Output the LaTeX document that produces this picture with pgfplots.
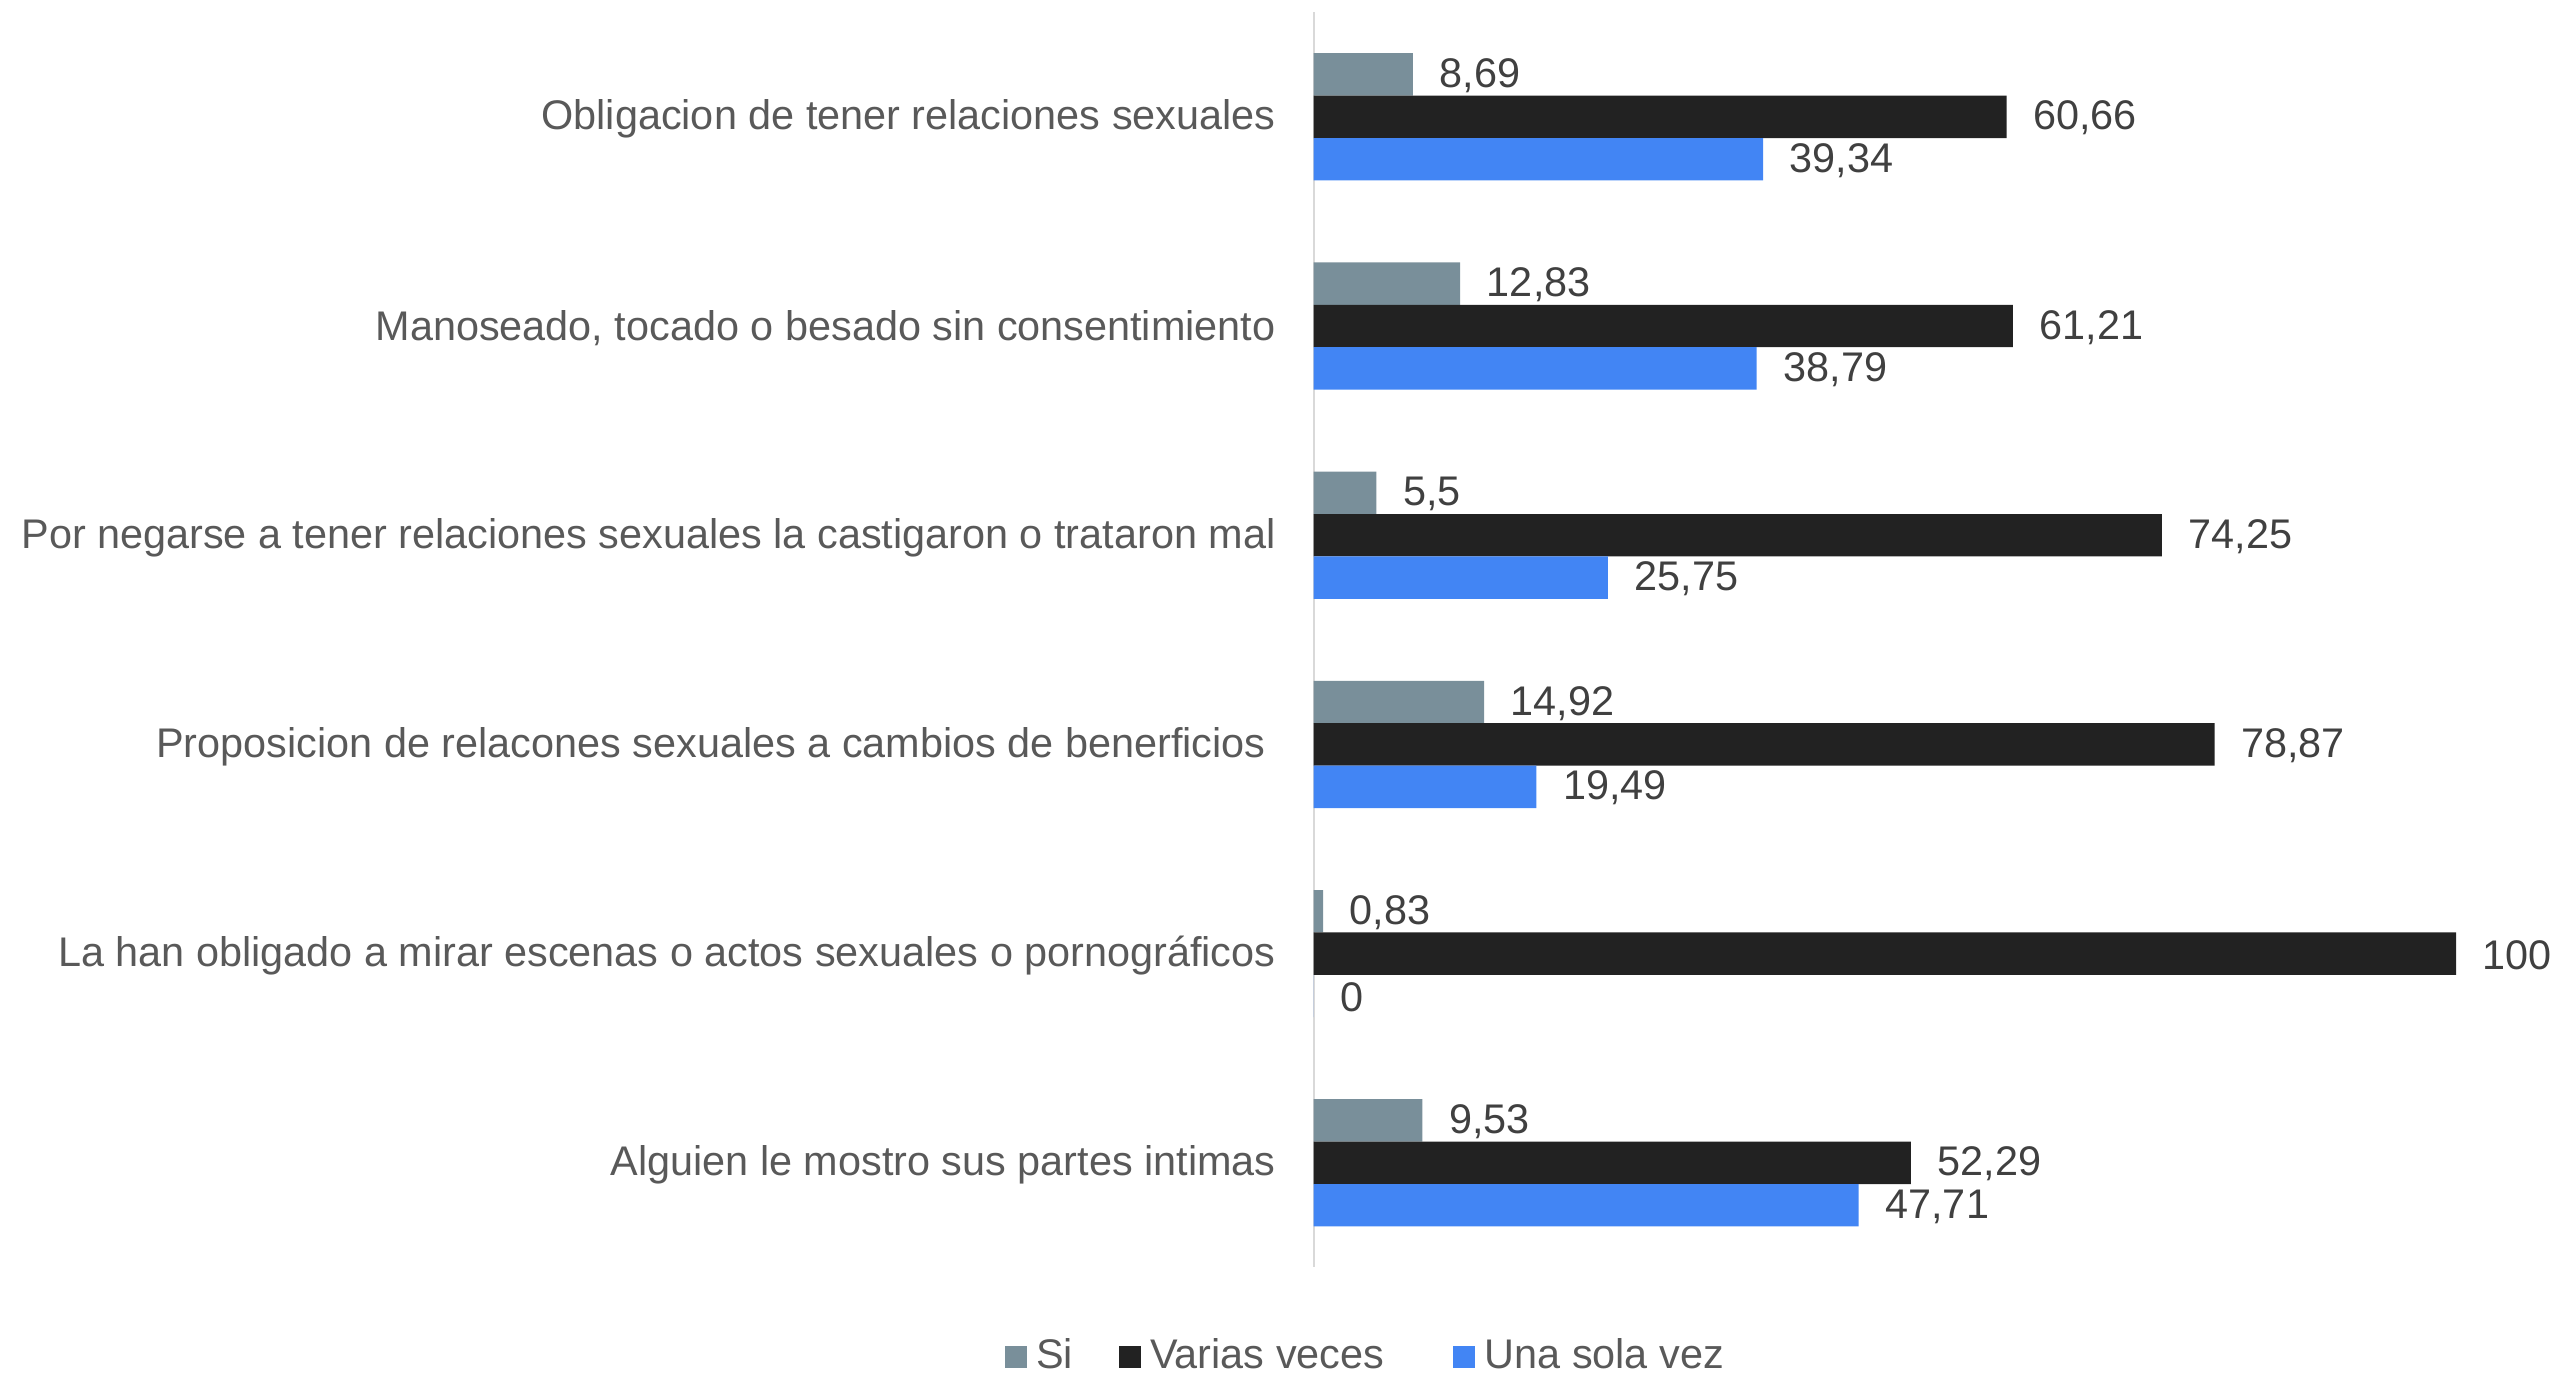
\documentclass[border=0pt]{standalone}
\usepackage{pgfplots}
\pgfplotsset{compat=1.18}
\usepackage{fontspec}
\setmainfont{Liberation Sans}
\definecolor{csi}{HTML}{798F9A}
\definecolor{cvar}{HTML}{222222}
\definecolor{cuna}{HTML}{4285F4}
\definecolor{ccat}{HTML}{595959}
\definecolor{cval}{HTML}{404040}
\definecolor{caxis}{HTML}{D9D9D9}
\newcommand{\fs}{\fontsize{10.35}{12.4}\selectfont}
\begin{document}
\fs
\begin{tikzpicture}
\useasboundingbox (0,0) rectangle (639.75pt,343pt);
\begin{axis}[
  at={(328.4pt,26.15pt)}, anchor=south west,
  scale only axis, width=285.6pt, height=313.8pt,
  xmin=0, xmax=100, ymin=-0.5, ymax=5.5,
  y dir=reverse,
  axis x line=none, axis y line=left,
  axis line style={-, draw=caxis, line width=0.5pt},
  xtick=\empty,
  ytick={0,1,2,3,4,5},
  yticklabels={Obligacion de tener relaciones sexuales,
    {Manoseado, tocado o besado sin consentimiento},
    Por negarse a tener relaciones sexuales la castigaron o trataron mal,
    Proposicion de relacones sexuales a cambios de benerficios\rule{2.5pt}{0pt},
    La han obligado a mirar escenas o actos sexuales o pornográficos,
    Alguien le mostro sus partes intimas},
  major tick length=0pt,
  yticklabel style={font=\fs, text=ccat, inner sep=0pt, xshift=-9.3pt, yshift=-0.6pt},
  xbar, bar width=10.6pt,
  clip=false,
  nodes near coords,
  nodes near coords style={font=\fs, text=cval, anchor=west, inner sep=0pt, xshift=6.5pt, yshift=-0.3pt,
    /pgf/number format/.cd, fixed, precision=2, use comma, assume math mode=true},
  legend columns=3,
  legend style={draw=none, fill=none, inner sep=0pt, outer sep=0pt,
    at={(-0.27,-0.071)}, anchor=west,
    nodes={inner sep=0pt, text=ccat, font=\fs},
    /tikz/every odd column/.append style={column sep=2.3pt},
    /tikz/every even column/.append style={column sep=11.5pt}},
  legend image code/.code={\fill[#1] (0pt,-2.9pt) rectangle (5.5pt,2.6pt);},
]
\addplot[fill=csi, draw=none, bar shift=10.6pt] coordinates {(8.69,0) (12.83,1) (5.5,2) (14.92,3) (0.83,4) (9.53,5)};
\addplot[fill=cvar, draw=none, bar shift=0pt] coordinates {(60.66,0) (61.21,1) (74.25,2) (78.87,3) (100,4) (52.29,5)};
\addplot[fill=cuna, draw=none, bar shift=-10.6pt] coordinates {(39.34,0) (38.79,1) (25.75,2) (19.49,3) (0,4) (47.71,5)};
\legend{Si, Varias veces\rule{5.8pt}{0pt}, Una sola vez}
\end{axis}
\end{tikzpicture}
\end{document}
